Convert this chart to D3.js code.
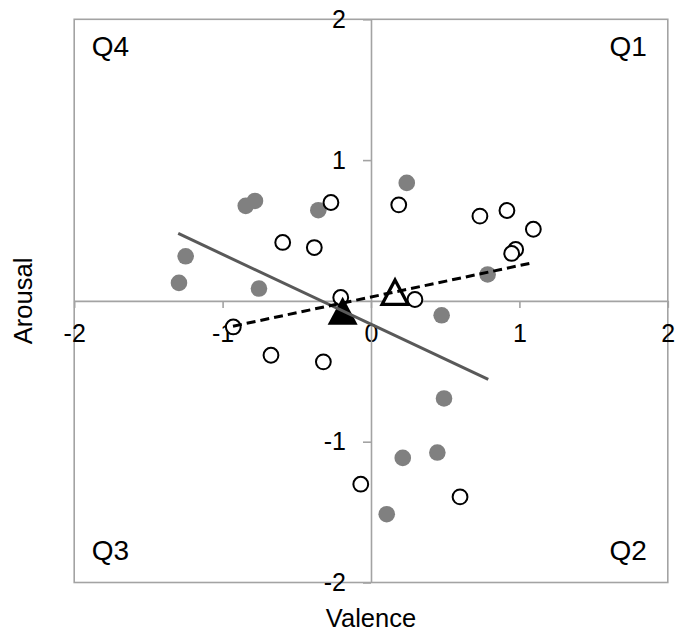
<!DOCTYPE html>
<html>
<head>
<meta charset="utf-8">
<script src="https://cdn.jsdelivr.net/npm/d3@7"></script>
<style>
  html, body { margin: 0; padding: 0; background: #fff; }
  svg text { font-family: "Liberation Sans", Arial, sans-serif; fill: #000; }
</style>
</head>
<body>
<svg id="canvas" width="676" height="635"></svg>
<script>
'use strict';

// values (valence, arousal)
var grayX = [-0.844, -0.782, -0.355, -1.249, -1.294, -0.755, 0.241, 0.786, 0.476, 0.492, 0.214, 0.447, 0.106];
var grayY = [0.675, 0.710, 0.644, 0.317, 0.128, 0.088, 0.838, 0.188, -0.102, -0.693, -1.115, -1.077, -1.515];
var openX = [-0.270, -0.595, -0.382, 0.187, -0.204, 0.734, 0.916, 1.094, 0.975, 0.948, 0.296, -0.928, -0.674, -0.321, -0.069, 0.600];
var openY = [0.699, 0.415, 0.379, 0.682, 0.024, 0.602, 0.642, 0.509, 0.365, 0.337, 0.010, -0.185, -0.386, -0.433, -1.302, -1.392];
// group means (triangles)
var meanGray = [-0.191, -0.070];
var meanOpen = [0.162, 0.062];
// trend lines, start and end points
var grayTrend = [[-1.299, 0.479], [0.790, -0.558]];
var openTrend = [[-0.930, -0.180], [1.067, 0.266]];
// axes and labels
var xTicks = [-2, -1, 0, 1, 2];
var yTicks = [-2, -1, 1, 2];
var quadrants = ['Q1', 'Q2', 'Q3', 'Q4'];

var frame = {left: 74.2, right: 667.8, top: 19.3, bottom: 582.5};

var x = d3.scaleLinear().domain([-2, 2]).range([frame.left, frame.right]);
var y = d3.scaleLinear().domain([-2, 2]).range([frame.bottom, frame.top]);

var svg = d3.select('svg#canvas');
var axisColor = '#a3a3a3';

/* outer frame */
svg.append('rect')
  .attr('x', x(-2)).attr('y', y(2))
  .attr('width', x(2) - x(-2)).attr('height', y(-2) - y(2))
  .attr('fill', 'none')
  .attr('stroke', axisColor)
  .attr('stroke-width', 1.6);

/* axes crossing at the origin */
var gx = svg.append('g')
  .attr('transform', 'translate(0,' + y(0) + ')')
  .call(d3.axisBottom(x).tickValues(xTicks).tickSize(7).tickSizeOuter(0).tickPadding(16)
    .tickFormat(d3.format('d')));
var gy = svg.append('g')
  .attr('transform', 'translate(' + x(0) + ',0)')
  .call(d3.axisLeft(y).tickValues(yTicks).tickSize(8).tickSizeOuter(0).tickPadding(17)
    .tickFormat(d3.format('d')));

[gx, gy].forEach(function(g){
  g.select('.domain').attr('stroke', axisColor).attr('stroke-width', 1.6);
  g.selectAll('.tick line').attr('stroke', axisColor).attr('stroke-width', 1.6);
  g.selectAll('.tick text')
    .attr('fill', '#000')
    .style('font-family', '"Liberation Sans", Arial, sans-serif')
    .style('font-size', '25px')
    .text(function(d){ return d < 0 ? '-' + Math.abs(d) : d; });
});

/* axis titles */
svg.append('text')
  .attr('x', x(0)).attr('y', 626.7)
  .attr('text-anchor', 'middle')
  .style('font-size', '25.5px')
  .text('Valence');
svg.append('text')
  .attr('transform', 'translate(32,' + y(0) + ') rotate(-90)')
  .attr('text-anchor', 'middle')
  .style('font-size', '25.5px')
  .text('Arousal');

/* quadrant names */
var qPos = {
  Q1: {x: frame.right - 21, y: frame.top + 37, anchor: 'end'},
  Q2: {x: frame.right - 21, y: frame.bottom - 23, anchor: 'end'},
  Q3: {x: frame.left + 17.5, y: frame.bottom - 23, anchor: 'start'},
  Q4: {x: frame.left + 17.5, y: frame.top + 37, anchor: 'start'}
};
svg.selectAll('text.quad')
  .data(quadrants)
  .enter().append('text')
    .attr('class', 'quad')
    .attr('x', function(d){ return qPos[d].x; })
    .attr('y', function(d){ return qPos[d].y; })
    .attr('text-anchor', function(d){ return qPos[d].anchor; })
    .style('font-size', '28px')
    .text(function(d){ return d; });

/* gray (filled) points */
svg.append('g').selectAll('circle')
  .data(d3.zip(grayX, grayY))
  .enter().append('circle')
    .attr('cx', function(d){ return x(d[0]); })
    .attr('cy', function(d){ return y(d[1]); })
    .attr('r', 8.3)
    .attr('fill', '#808080');

/* open points */
svg.append('g').selectAll('circle')
  .data(d3.zip(openX, openY))
  .enter().append('circle')
    .attr('cx', function(d){ return x(d[0]); })
    .attr('cy', function(d){ return y(d[1]); })
    .attr('r', 7.4)
    .attr('fill', '#fff')
    .attr('stroke', '#000')
    .attr('stroke-width', 2);

/* triangle markers for the means */
var triangle = {
  draw: function(context, size){
    var w = size / 2, h = size * 0.47;
    context.moveTo(0, -h);
    context.lineTo(w, h);
    context.lineTo(-w, h);
    context.closePath();
  }
};
svg.append('path')
  .attr('transform', 'translate(' + x(meanOpen[0]) + ',' + y(meanOpen[1]) + ')')
  .attr('d', d3.symbol().type(triangle).size(26)())
  .attr('fill', '#fff')
  .attr('stroke', '#000')
  .attr('stroke-width', 3.2);
svg.append('path')
  .attr('transform', 'translate(' + x(meanGray[0]) + ',' + y(meanGray[1]) + ')')
  .attr('d', d3.symbol().type(triangle).size(30)())
  .attr('fill', '#000');

/* trend lines */
var line = d3.line()
  .x(function(d){ return x(d[0]); })
  .y(function(d){ return y(d[1]); });
svg.append('path')
  .attr('d', line(grayTrend))
  .attr('fill', 'none')
  .attr('stroke', '#595959')
  .attr('stroke-width', 3);
svg.append('path')
  .attr('d', line(openTrend))
  .attr('fill', 'none')
  .attr('stroke', '#000')
  .attr('stroke-width', 3)
  .attr('stroke-dasharray', '9,5');
</script>
</body>
</html>
